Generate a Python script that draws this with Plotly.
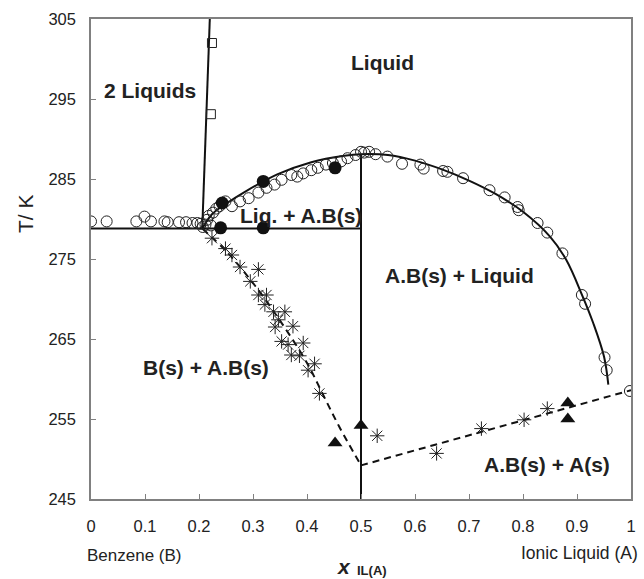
import plotly.graph_objects as go

# ---------------- data ----------------
open_x = [0.0, 0.029, 0.084, 0.099, 0.111, 0.136, 0.142, 0.163, 0.176, 0.188, 0.197, 0.203,
          0.207, 0.212, 0.215, 0.218, 0.222, 0.226, 0.232, 0.238, 0.249, 0.261, 0.276, 0.292,
          0.310, 0.325, 0.340, 0.353, 0.371, 0.382, 0.393, 0.408, 0.420, 0.435, 0.448, 0.463,
          0.475, 0.490, 0.500, 0.506, 0.515, 0.527, 0.549, 0.576, 0.610, 0.616, 0.652, 0.660,
          0.689, 0.738, 0.766, 0.790, 0.792, 0.827, 0.845, 0.873, 0.909, 0.915, 0.951, 0.955, 0.998]
open_T = [279.7, 279.7, 279.7, 280.3, 279.7, 279.7, 279.6, 279.6, 279.6, 279.5, 279.5, 279.4,
          279.0, 279.3, 279.9, 280.4, 279.2, 280.8, 281.3, 281.6, 282.2, 281.6, 282.2, 282.6,
          283.3, 283.9, 284.3, 284.9, 285.5, 285.3, 285.7, 286.1, 286.4, 286.8, 287.0, 287.2,
          287.6, 288.0, 288.4, 288.3, 288.4, 288.1, 287.8, 286.9, 286.8, 286.3, 286.0, 285.9,
          285.1, 283.6, 282.7, 281.5, 281.1, 279.5, 278.3, 275.7, 270.5, 269.4, 262.7, 261.1, 258.5]

filled_x = [0.243, 0.240, 0.319, 0.319, 0.452]
filled_T = [282.0, 278.9, 284.7, 278.9, 286.4]

tri_x = [0.452, 0.500, 0.883, 0.883]
tri_T = [252.0, 254.2, 257.0, 255.0]

sq_x = [0.224, 0.222]
sq_T = [302.0, 293.1]

ast_x = [0.224, 0.249, 0.261, 0.276, 0.310, 0.295, 0.310, 0.325, 0.322, 0.338, 0.359, 0.347,
         0.341, 0.374, 0.353, 0.365, 0.393, 0.371, 0.386, 0.414, 0.402, 0.423,
         0.530, 0.640, 0.723, 0.802, 0.845]
ast_T = [277.6, 276.3, 275.5, 274.0, 273.7, 272.2, 270.5, 270.5, 269.3, 268.4, 268.4, 267.4,
         266.5, 266.6, 264.7, 264.3, 264.5, 263.0, 262.9, 261.9, 261.1, 258.2,
         252.9, 250.7, 253.8, 254.9, 256.3]

# lines
lle_x = [0.220, 0.206]
lle_T = [305.0, 278.8]
eut_x = [0.0, 0.5]
eut_T = [278.8, 278.8]
vert_x = [0.5, 0.5]
vert_T = [245.0, 288.1]
liq_x = [0.206, 0.224, 0.25, 0.285, 0.346, 0.408, 0.469, 0.5, 0.55, 0.6, 0.65, 0.7, 0.75,
         0.8, 0.85, 0.88, 0.91, 0.93, 0.95, 0.958]
liq_T = [278.8, 280.6, 281.9, 283.4, 285.6, 287.1, 287.9, 288.1, 288.0, 287.3, 286.2, 284.8,
         283.1, 280.9, 277.8, 274.9, 270.4, 267.0, 262.8, 259.3]
sol_l_x = [0.206, 0.25, 0.30, 0.35, 0.40, 0.43, 0.46, 0.50]
sol_l_T = [278.8, 276.0, 272.0, 267.3, 262.0, 258.0, 254.0, 249.2]
sol_r_x = [0.5, 1.0]
sol_r_T = [249.2, 258.6]

x_ticks = [0, 0.1, 0.2, 0.3, 0.4, 0.5, 0.6, 0.7, 0.8, 0.9, 1]
x_ticklabels = ["0", "0.1", "0.2", "0.3", "0.4", "0.5", "0.6", "0.7", "0.8", "0.9", "1"]
y_ticks = [245, 255, 265, 275, 285, 295, 305]

regions = [("Liquid", 0.54, 299.6), ("2 Liquids", 0.109, 296.1), ("Liq. + A.B(s)", 0.389, 280.5),
           ("A.B(s) + Liquid", 0.683, 272.9), ("B(s) + A.B(s)", 0.213, 261.5),
           ("A.B(s) + A(s)", 0.844, 249.3)]

# ---------------- figure ----------------
FONT = "Liberation Sans, Arial, sans-serif"
fig = go.Figure()

def line(x, y, dash="solid", shape="linear"):
    fig.add_trace(go.Scatter(x=x, y=y, mode="lines", line=dict(color="#111", width=2, dash=dash, shape=shape),
                             showlegend=False, hoverinfo="skip"))

line(lle_x, lle_T)
line(eut_x, eut_T)
line(vert_x, vert_T)
line(liq_x, liq_T, shape="spline")
line(sol_l_x, sol_l_T, dash="7px,5px", shape="spline")
line(sol_r_x, sol_r_T, dash="7px,5px")

fig.add_trace(go.Scatter(x=open_x, y=open_T, mode="markers",
                         marker=dict(symbol="circle-open", size=11, color="#222", line=dict(width=1)),
                         showlegend=False))
fig.add_trace(go.Scatter(x=ast_x, y=ast_T, mode="markers",
                         marker=dict(symbol="asterisk-open", size=12, color="#222", line=dict(width=1)),
                         showlegend=False))
fig.add_trace(go.Scatter(x=sq_x, y=sq_T, mode="markers",
                         marker=dict(symbol="square-open", size=9, color="#222", line=dict(width=1)),
                         showlegend=False))
fig.add_trace(go.Scatter(x=filled_x, y=filled_T, mode="markers",
                         marker=dict(symbol="circle", size=13, color="#111"),
                         showlegend=False))
fig.add_trace(go.Scatter(x=tri_x, y=tri_T, mode="markers",
                         marker=dict(symbol="triangle-up", size=13, color="#111"),
                         showlegend=False))

for txt, x, y in regions:
    fig.add_annotation(x=x, y=y, text="<b>%s</b>" % txt, showarrow=False,
                       font=dict(family=FONT, size=21, color="#222"))

fig.add_annotation(xref="paper", yref="paper", x=-0.012, y=-0.118, xanchor="left", yanchor="middle",
                   text="Benzene (B)", showarrow=False, font=dict(family=FONT, size=17, color="#222"))
fig.add_annotation(xref="paper", yref="paper", x=1.016, y=-0.112, xanchor="right", yanchor="middle",
                   text="Ionic Liquid (A)", showarrow=False, font=dict(family=FONT, size=17.5, color="#222"))
fig.add_annotation(xref="paper", yref="paper", x=0.486, y=-0.140, xanchor="right", yanchor="middle",
                   text="<b><i>x</i></b>", showarrow=False, font=dict(family=FONT, size=21, color="#222"))
fig.add_annotation(xref="paper", yref="paper", x=0.489, y=-0.148, xanchor="left", yanchor="middle",
                   text="<b>IL(A)</b>", showarrow=False, font=dict(family=FONT, size=13, color="#222"))
fig.add_annotation(xref="paper", yref="paper", x=-0.120, y=0.594, xanchor="center", yanchor="middle",
                   text="T/ K", textangle=-90, showarrow=False, font=dict(family=FONT, size=21, color="#222"))

fig.update_xaxes(range=[0, 1], tickvals=x_ticks, ticktext=x_ticklabels, showline=True, mirror=True,
                 linecolor="#808080", linewidth=1.5, ticks="inside", ticklen=5, tickcolor="#808080",
                 showgrid=False, zeroline=False, ticklabelstandoff=11,
                 tickfont=dict(family=FONT, size=16.5, color="#222"))
fig.update_yaxes(range=[245, 305], tickvals=y_ticks, showline=True, mirror=True,
                 linecolor="#808080", linewidth=1.5, ticks="inside", ticklen=5, tickcolor="#808080",
                 showgrid=False, zeroline=False, ticklabelstandoff=10,
                 tickfont=dict(family=FONT, size=16.5, color="#222"))

fig.update_layout(width=644, height=579, autosize=False, margin=dict(l=91, r=8, t=19, b=80),
                  plot_bgcolor="white", paper_bgcolor="white", showlegend=False)

# remove the default 8px page margin so the figure fills the window exactly
fig.write_html("out.html", config={"displayModeBar": False, "responsive": False},
               post_script="document.body.style.margin='0px';document.body.style.overflow='hidden';")
